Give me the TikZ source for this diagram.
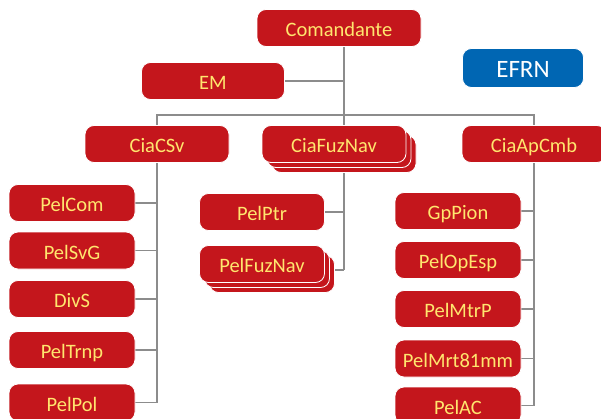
\documentclass[tikz,border=0pt]{standalone}
\usepackage{fontspec}
\setmainfont{Carlito}
\usetikzlibrary{shadows,backgrounds}
\definecolor{unitred}{RGB}{196,22,28}
\definecolor{unityellow}{RGB}{255,230,110}
\definecolor{efrnblue}{RGB}{0,102,179}
\definecolor{linkgray}{RGB}{140,140,140}
\tikzset{
  unit/.style={rounded corners=9pt, fill=unitred, draw=white, line width=0.8pt,
    text=unityellow, minimum height=37pt, text height=19pt, text depth=2pt,
    inner sep=2pt, font=\fontsize{20.5}{24}\selectfont},
  stack/.style={
    general shadow={shadow xshift=10pt, shadow yshift=-10pt, fill=unitred, draw=white, line width=0.8pt},
    general shadow={shadow xshift=5pt, shadow yshift=-5pt, fill=unitred, draw=white, line width=0.8pt}},
  link/.style={draw=linkgray, line width=1.3pt}
}
\begin{document}
\begin{tikzpicture}[x=1pt,y=-1pt]
        \useasboundingbox (0,0) rectangle (601,418);
        \node [unit, minimum width=164pt] (cmd)  at (339,28)  {Comandante};  %
        \node [unit, minimum width=143pt] (em)   at (213,81)  {EM};          %
        \node [unit, minimum width=121pt, minimum height=39pt, fill=efrnblue, text=white,
               text height=21pt, font=\fontsize{25}{30}\selectfont]
                                          (efrn) at (523,68)  {EFRN};        %
        \coordinate (hub) at (344,115);                                      %

        \node [unit, minimum width=144pt]        (csv) at (157,144) {CiaCSv};    %
        \node [unit, minimum width=144pt, stack] (fuz) at (334,144) {CiaFuzNav}; %
        \node [unit, minimum width=144pt]        (apc) at (534,144) {CiaApCmb};  %

        \node [unit, minimum width=126pt] (pelcom)  at (72,203)   {PelCom};  %CiaCSv
        \node [unit, minimum width=126pt] (pelsvg)  at (72,250.5) {PelSvG};  %
        \node [unit, minimum width=126pt] (divs)    at (72,299)   {DivS};    %
        \node [unit, minimum width=126pt] (peltrnp) at (72,350)   {PelTrnp}; %
        \node [unit, minimum width=126pt] (pelpol)  at (72,402.5) {PelPol};  %

        \node [unit, minimum width=125pt]        (pelptr) at (262,212) {PelPtr};    %CiaFuzNav
        \node [unit, minimum width=125pt, stack] (pelfuz) at (262,264) {PelFuzNav}; %
        \coordinate (fuzlink) at ([shift={(0,6)}]pelfuz.east);                      %

        \node [unit, minimum width=126pt] (gppion)   at (458,211)   {GpPion};     %CiaApCmb
        \node [unit, minimum width=126pt] (pelopesp) at (458,260)   {PelOpEsp};   %
        \node [unit, minimum width=126pt] (pelmtrp)  at (458,309)   {PelMtrP};    %
        \node [unit, minimum width=126pt] (pelmrt)   at (458,358.5) {PelMrt81mm}; %
        \node [unit, minimum width=126pt] (pelac)    at (458,405.5) {PelAC};      %

        \begin{scope}[on background layer]
        \draw [link] (hub |- cmd.south) -- (hub |- fuzlink);       %
        \draw [link] (em.east) -- (em.east -| hub);                %
        \draw [link] (csv.north) |- (hub) -| (apc.north);          %
        \draw [link] (csv.south) -- (csv.south |- pelpol.east);    %
        \draw [link] (pelcom.east)  -- (pelcom.east -| csv.south); %
        \draw [link] (pelsvg.east)  -- (pelsvg.east -| csv.south); %
        \draw [link] (divs.east)    -- (divs.east -| csv.south);   %
        \draw [link] (peltrnp.east) -- (peltrnp.east -| csv.south);%
        \draw [link] (pelpol.east)  -- (pelpol.east -| csv.south); %
        \draw [link] (pelptr.east)  -- (pelptr.east -| hub);       %
        \draw [link] (fuzlink) -- (fuzlink -| hub);                %
        \draw [link] (apc.south) -- (apc.south |- pelac.east);     %
        \draw [link] (gppion.east)   -- (gppion.east -| apc.south);  %
        \draw [link] (pelopesp.east) -- (pelopesp.east -| apc.south);%
        \draw [link] (pelmtrp.east)  -- (pelmtrp.east -| apc.south); %
        \draw [link] (pelmrt.east)   -- (pelmrt.east -| apc.south);  %
        \draw [link] (pelac.east)    -- (pelac.east -| apc.south);   %
        \end{scope}
      \end{tikzpicture}
\end{document}
